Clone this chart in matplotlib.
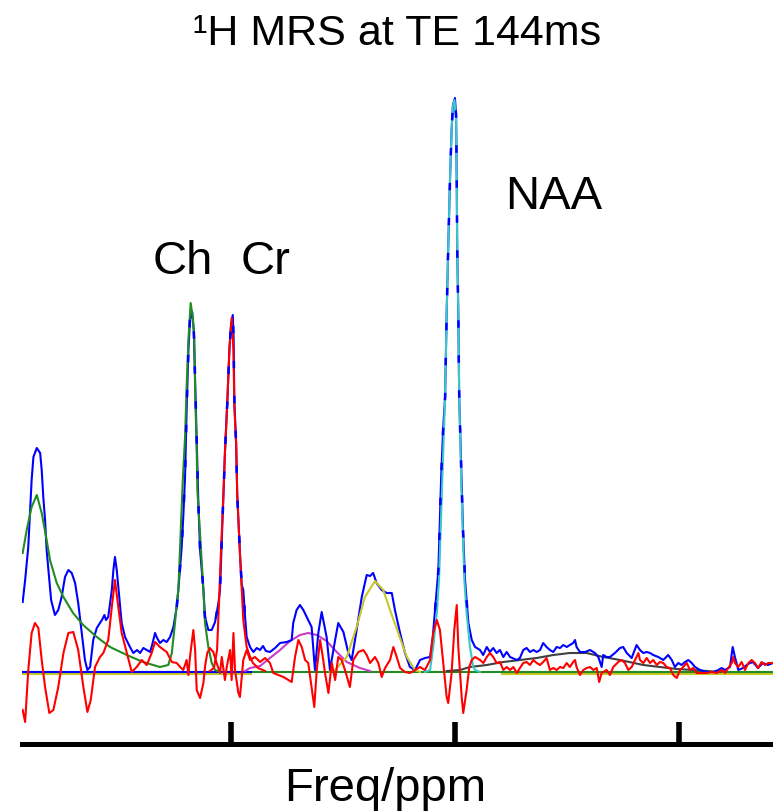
import numpy as np
import matplotlib
matplotlib.use("Agg")
import matplotlib.pyplot as plt

plt.rcParams["font.family"] = ["Liberation Sans", "DejaVu Sans"]

# measured spectrum (blue), chemical shift in ppm and amplitude in a.u.
spec_ppm = [3.930, 3.919, 3.905, 3.890, 3.882, 3.867, 3.852, 3.845, 3.838, 3.830,
            3.823, 3.811, 3.803, 3.786, 3.771, 3.756, 3.741, 3.726, 3.711, 3.696,
            3.682, 3.666, 3.652, 3.641, 3.629, 3.615, 3.599, 3.585, 3.576, 3.565,
            3.558, 3.548, 3.532, 3.525, 3.518, 3.510, 3.503, 3.488, 3.473, 3.451,
            3.436, 3.419, 3.406, 3.391, 3.376, 3.361, 3.352, 3.339, 3.330, 3.317,
            3.302, 3.287, 3.272, 3.257, 3.242, 3.235, 3.220, 3.213, 3.205, 3.198,
            3.190, 3.183, 3.173, 3.166, 3.160, 3.153, 3.146, 3.138, 3.123, 3.116,
            3.101, 3.086, 3.071, 3.056, 3.049, 3.042, 3.034, 3.027, 3.016, 3.007,
            3.000, 2.992, 2.988, 2.985, 2.977, 2.972, 2.960, 2.952, 2.945, 2.937,
            2.930, 2.915, 2.900, 2.885, 2.870, 2.857, 2.844, 2.826, 2.803, 2.781,
            2.751, 2.729, 2.722, 2.707, 2.692, 2.677, 2.655, 2.640, 2.625, 2.610,
            2.595, 2.588, 2.573, 2.558, 2.535, 2.521, 2.498, 2.476, 2.461, 2.439,
            2.416, 2.394, 2.379, 2.365, 2.350, 2.327, 2.305, 2.282, 2.268, 2.245,
            2.223, 2.201, 2.178, 2.156, 2.134, 2.111, 2.099, 2.089, 2.074, 2.062,
            2.053, 2.044, 2.037, 2.030, 2.022, 2.015, 2.009, 2.000, 1.995, 1.992,
            1.990, 1.985, 1.981, 1.973, 1.964, 1.955, 1.940, 1.925, 1.910, 1.888,
            1.874, 1.858, 1.844, 1.829, 1.814, 1.799, 1.784, 1.769, 1.754, 1.724,
            1.710, 1.695, 1.680, 1.665, 1.650, 1.635, 1.620, 1.606, 1.591, 1.576,
            1.561, 1.546, 1.531, 1.516, 1.501, 1.487, 1.472, 1.464, 1.457, 1.442,
            1.419, 1.397, 1.375, 1.360, 1.345, 1.338, 1.323, 1.308, 1.286, 1.263,
            1.249, 1.233, 1.211, 1.189, 1.174, 1.159, 1.144, 1.129, 1.115, 1.092,
            1.070, 1.048, 1.032, 1.018, 1.003, 0.988, 0.973, 0.958, 0.943, 0.928,
            0.906, 0.876, 0.847, 0.824, 0.809, 0.794, 0.772, 0.760, 0.750, 0.735,
            0.714, 0.692, 0.670, 0.647, 0.625, 0.603, 0.580]
spec_amp = [70, 92, 125, 192, 215, 224, 219, 202, 175, 152,
            122, 92, 72, 57, 62, 75, 95, 102, 99, 89,
            69, 39, 12, 2, 5, 32, 44, 49, 52, 57,
            52, 55, 82, 102, 115, 102, 85, 49, 35, 25,
            19, 22, 19, 24, 22, 20, 27, 39, 34, 29,
            32, 30, 35, 45, 65, 82, 125, 155, 195, 262,
            322, 352, 360, 342, 292, 232, 172, 122, 82, 55,
            42, 42, 50, 69, 82, 125, 175, 219, 272, 322,
            347, 357, 332, 272, 229, 177, 119, 87, 82, 55,
            35, 25, 20, 24, 22, 26, 21, 20, 24, 29,
            30, 32, 49, 62, 67, 62, 52, 45, 2, 39,
            60, 52, 35, 2, 32, 49, 40, 19, 12, 42,
            75, 97, 96, 99, 89, 82, 79, 79, 62, 39,
            19, 5, 2, 12, 14, 15, 35, 62, 102, 192,
            242, 275, 359, 425, 492, 542, 567, 574, 557, 492,
            425, 359, 275, 212, 142, 92, 49, 32, 25, 22,
            17, 25, 20, 24, 19, 22, 15, 20, 15, 12,
            14, 22, 24, 20, 22, 20, 22, 29, 25, 22,
            20, 25, 24, 27, 25, 27, 29, 32, 25, 20,
            20, 22, 19, 15, 5, 17, 15, 15, 19, 24,
            25, 19, 14, 27, 22, 19, 20, 19, 17, 15,
            12, 17, 12, 5, 9, 7, 10, 12, 9, 5,
            2, 0, 0, 2, 4, 2, 5, 25, 15, 2,
            4, 8, 10, 4, 9, 7, 9]

# residual (red)
res_ppm = [3.930, 3.919, 3.905, 3.890, 3.875, 3.860, 3.845, 3.830, 3.811, 3.793,
           3.771, 3.748, 3.726, 3.704, 3.682, 3.659, 3.641, 3.626, 3.607, 3.585,
           3.570, 3.548, 3.532, 3.518, 3.503, 3.488, 3.465, 3.443, 3.421, 3.398,
           3.376, 3.354, 3.339, 3.317, 3.287, 3.264, 3.242, 3.227, 3.213, 3.198,
           3.190, 3.183, 3.168, 3.160, 3.153, 3.138, 3.123, 3.116, 3.106, 3.094,
           3.079, 3.064, 3.049, 3.041, 3.027, 3.019, 3.004, 2.997, 2.989, 2.982,
           2.967, 2.960, 2.945, 2.930, 2.915, 2.893, 2.870, 2.848, 2.826, 2.811,
           2.789, 2.766, 2.744, 2.729, 2.714, 2.699, 2.684, 2.669, 2.655, 2.640,
           2.628, 2.617, 2.602, 2.590, 2.580, 2.565, 2.550, 2.535, 2.521, 2.506,
           2.491, 2.469, 2.454, 2.431, 2.409, 2.394, 2.379, 2.357, 2.342, 2.327,
           2.312, 2.290, 2.275, 2.260, 2.245, 2.223, 2.201, 2.178, 2.156, 2.134,
           2.111, 2.097, 2.081, 2.067, 2.052, 2.037, 2.030, 2.015, 2.003, 1.992,
           1.985, 1.970, 1.963, 1.948, 1.936, 1.925, 1.910, 1.888, 1.873, 1.858,
           1.844, 1.829, 1.814, 1.799, 1.784, 1.769, 1.754, 1.739, 1.724, 1.710,
           1.695, 1.680, 1.665, 1.650, 1.635, 1.620, 1.606, 1.591, 1.576, 1.561,
           1.546, 1.531, 1.516, 1.501, 1.487, 1.472, 1.464, 1.457, 1.442, 1.427,
           1.412, 1.397, 1.382, 1.367, 1.356, 1.345, 1.323, 1.308, 1.293, 1.271,
           1.256, 1.241, 1.226, 1.211, 1.196, 1.181, 1.174, 1.159, 1.144, 1.129,
           1.115, 1.099, 1.085, 1.070, 1.055, 1.040, 1.025, 1.010, 0.995, 0.981,
           0.965, 0.951, 0.936, 0.921, 0.898, 0.876, 0.854, 0.831, 0.809, 0.794,
           0.780, 0.764, 0.757, 0.750, 0.735, 0.720, 0.705, 0.690, 0.675, 0.661,
           0.646, 0.631, 0.616, 0.601, 0.580]
res_amp = [-38, -50, 2, 39, 49, 44, 12, -15, -41, -38,
           -15, 19, 39, 40, 22, -15, -40, -28, 5, 15,
           19, 32, 65, 92, 65, 39, 19, 0, 5, 12,
           7, 19, 30, 25, 20, 10, 9, 5, 2, 12,
           -3, 15, 42, 22, -18, -26, -11, 5, 19, 24,
           20, 9, -1, 15, -8, 5, 22, -8, 39, 2,
           -21, -25, 12, 22, 12, 15, 10, 14, 9, -1,
           -3, -5, -8, -10, 15, 32, 25, 12, 9, -15,
           -35, 2, 32, 15, -1, -21, 9, -8, 15, 12,
           2, -15, 12, 20, 22, 17, 9, 15, 9, -5,
           4, 12, 25, 15, 4, 0, -1, 2, 5, 2,
           12, 39, 52, 42, 9, -25, -31, -1, 42, 67,
           25, -25, -41, -18, 5, 12, 15, 12, 9, 15,
           19, 15, 9, 10, 2, 5, 2, 5, -1, 4,
           9, 10, 7, 12, 9, 7, 10, 14, 2, 4,
           2, 5, 4, 9, 5, 10, 12, 5, -3, 2,
           4, 5, 2, 4, -10, -1, 2, -3, 5, 10,
           12, 9, 2, 5, 12, 19, 12, 9, 14, 9,
           12, 7, 10, 9, 5, 4, -3, -6, 2, 5,
           9, 2, 4, -1, -1, -1, 0, -1, 2, -1,
           4, 9, 15, 9, 5, 10, 2, 9, 12, 9,
           4, 10, 7, 9, 9]

# fitted components
chol_ppm = [3.930, 3.912, 3.890, 3.867, 3.845, 3.823, 3.808, 3.778, 3.748, 3.705,
            3.660, 3.599, 3.540, 3.465, 3.393, 3.317, 3.280, 3.264, 3.250, 3.242,
            3.235, 3.215, 3.205, 3.198, 3.190, 3.180, 3.171, 3.164, 3.160, 3.153,
            3.150, 3.123, 3.116, 3.101, 3.086, 3.071, 3.049]
chol_amp = [119, 142, 165, 177, 159, 132, 112, 89, 75, 59,
            47, 35, 25, 17, 10, 5, 7, 19, 49, 69,
            82, 192, 235, 285, 332, 369, 355, 335, 282, 222,
            182, 82, 49, 25, 9, 2, 0]

cr_ppm = [3.094, 3.076, 3.062, 3.053, 3.044, 3.034, 3.027, 3.016, 3.007, 2.997,
          2.989, 2.985, 2.977, 2.972, 2.960, 2.945, 2.930, 2.918, 2.902, 2.879, 2.848]
cr_amp = [1, 4, 22, 72, 125, 175, 219, 272, 324, 354,
          322, 265, 229, 177, 119, 52, 25, 17, 9, 4, 1]

naa_ppm = [2.134, 2.111, 2.097, 2.081, 2.071, 2.058, 2.044, 2.037, 2.030, 2.022,
           2.015, 2.010, 2.002, 1.995, 1.992, 1.990, 1.985, 1.981, 1.971, 1.958,
           1.948, 1.933, 1.918, 1.910, 1.888]
naa_amp = [0, 2, 25, 59, 92, 182, 275, 359, 425, 492,
           542, 565, 572, 552, 492, 425, 359, 275, 182, 92,
           59, 25, 5, 2, 0]

glx_ppm = [2.558, 2.535, 2.483, 2.439, 2.402, 2.357, 2.320, 2.290, 2.253, 2.215, 2.178, 2.156]
glx_amp = [0, 2, 15, 45, 75, 91, 82, 62, 39, 15, 2, 0]

mm_ppm = [2.937, 2.915, 2.870, 2.826, 2.781, 2.736, 2.692, 2.655, 2.617, 2.573,
          2.528, 2.483, 2.424, 2.379]
mm_amp = [1, 4, 6, 14, 22, 31, 37, 39, 37, 31, 20, 10, 4, 1]

lip_ppm = [2.036, 1.977, 1.933, 1.858, 1.784, 1.710, 1.635, 1.561, 1.487, 1.412,
           1.338, 1.263, 1.159, 1.085, 1.010, 0.936, 0.876, 0.817]
lip_amp = [1, 2, 5, 7, 10, 12, 14, 17, 19, 19, 15, 12, 7, 5, 3, 2, 1, 0]

tick_ppm = [3.0, 2.0, 1.0]

BLUE = "#0000ff"
RED = "#ff0000"
GREEN = "#218c21"
CYAN = "#3cc8c8"
YELLOW = "#c8c828"
MAGENTA = "#c83cc8"
GRAY = "#404040"

fig = plt.figure(figsize=(7.73, 8.11), dpi=100)
ax = fig.add_axes([22 / 773, 67 / 811, 751 / 773, 664 / 811])

lw = 1.5
# flat baselines of the fitted components
ax.plot([3.933, 2.91], [-1.5, -1.5], color=YELLOW, lw=lw)
ax.plot([1.79, 0.58], [-1.5, -1.5], color=YELLOW, lw=lw)
ax.plot([3.933, 0.58], [0, 0], color=GREEN, lw=lw)
ax.plot([3.933, 2.91], [0.5, 0.5], color=BLUE, lw=lw)

ax.plot(mm_ppm, mm_amp, color=MAGENTA, lw=lw)
ax.plot(lip_ppm, lip_amp, color=GRAY, lw=lw)
ax.plot(spec_ppm, spec_amp, color=BLUE, lw=lw)
ax.plot(glx_ppm, glx_amp, color=YELLOW, lw=lw)
ax.plot(chol_ppm, chol_amp, color=GREEN, lw=lw)
ax.plot(naa_ppm, naa_amp, color=CYAN, lw=lw)
ax.plot(res_ppm, res_amp, color=RED, lw=lw)
ax.plot(cr_ppm, cr_amp, color=RED, lw=lw)

# measured points show through the fitted peaks as sparse blue dashes
sp = np.array(spec_ppm)
sa = np.array(spec_amp)
for lo, hi in [(2.93, 3.25), (1.94, 2.09)]:
    m = (sp >= lo) & (sp <= hi)
    ax.plot(sp[m], sa[m], color=BLUE, lw=lw + 0.3, dashes=(3, 11))

ax.text(3.348, 398, "Ch", fontsize=34)
ax.text(2.955, 398, "Cr", fontsize=34)
ax.text(1.777, 463, "NAA", fontsize=34)

ax.set_xlim(3.933, 0.580)
ax.set_ylim(-72, 592)
ax.set_xticks(tick_ppm)
ax.set_yticks([])
ax.tick_params(axis="x", direction="in", length=16, width=4, labelbottom=False, color="black")
for s in ["top", "left", "right"]:
    ax.spines[s].set_visible(False)
ax.spines["bottom"].set_linewidth(3.6)

fig.text(397 / 773, 1 - 45 / 811, "\u00b9H MRS at TE 144ms", fontsize=31, ha="center", va="baseline")
fig.text(385 / 773, 1 - 801 / 811, "Freq/ppm", fontsize=34, ha="center", va="baseline")

fig.savefig("out.png", dpi=100)
